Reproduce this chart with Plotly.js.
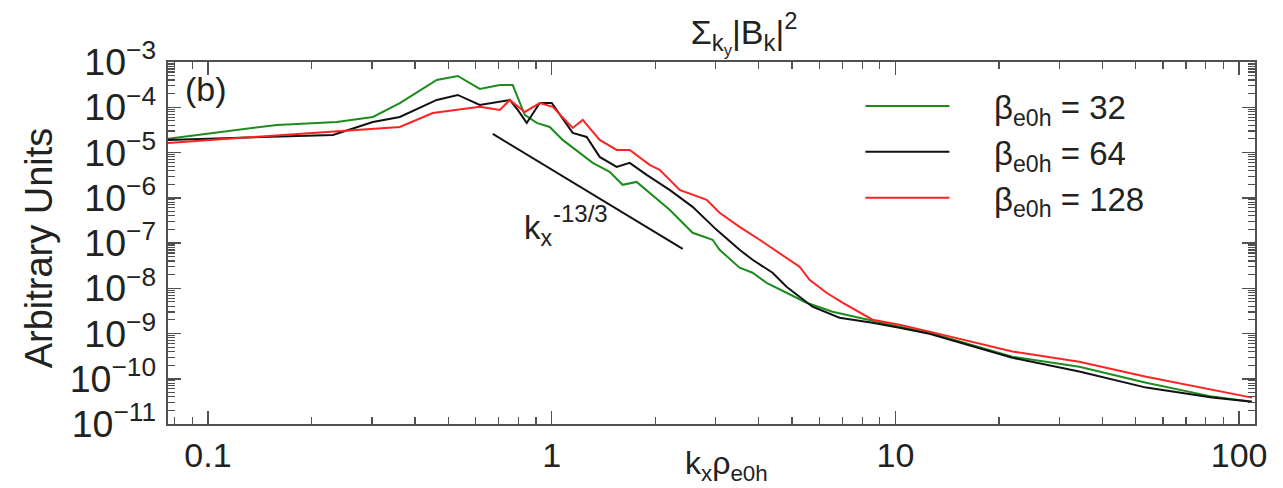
<!DOCTYPE html>
<html>
<head>
<meta charset="utf-8">
<script src="https://cdn.plot.ly/plotly-3.0.1.min.js"></script>
<style>html,body{margin:0;padding:0;background:#fff;}#chart{width:1283px;height:488px;}</style>
</head>
<body>
<div id="chart"></div>
<script>
// beta_e0h = 32 (green)
const kx32 = [0.0765, 0.1587, 0.2371, 0.3018, 0.3615, 0.463, 0.533, 0.6175, 0.7062, 0.7703, 0.8347, 0.9045, 0.9867, 1.076, 1.206, 1.316, 1.474, 1.608, 1.766, 1.927, 2.203, 2.57, 2.938, 3.079, 3.52, 3.84, 4.217, 4.822, 5.512, 6.56, 8.237, 10.27, 12.56, 21.88, 34.26, 53.66, 83.46, 109];
const p32 = [2.0e-5, 4.07e-5, 4.73e-5, 6.11e-5, 1.24e-4, 4.01e-4, 4.91e-4, 2.54e-4, 3.10e-4, 3.10e-4, 6.76e-5, 4.50e-5, 3.67e-5, 1.90e-5, 9.8e-6, 5.89e-6, 3.73e-6, 1.93e-6, 2.24e-6, 1.28e-6, 5.41e-7, 1.68e-7, 1.18e-7, 7.08e-8, 2.84e-8, 2.20e-8, 1.32e-8, 7.96e-9, 4.79e-9, 3.03e-9, 2.02e-9, 1.41e-9, 1.04e-9, 3.08e-10, 1.85e-10, 8.2e-11, 4.03e-11, 3.12e-11];
// beta_e0h = 64 (black)
const kx64 = [0.0765, 0.2309, 0.3018, 0.3615, 0.463, 0.533, 0.6175, 0.7551, 0.7966, 0.8459, 0.9229, 1.0, 1.151, 1.264, 1.379, 1.545, 1.686, 1.889, 2.203, 2.57, 3.018, 3.52, 3.84, 4.39, 4.822, 5.26, 5.737, 6.875, 8.575, 10.27, 12.56, 21.88, 34.26, 53.66, 83.46, 109];
const p64 = [1.9e-5, 2.45e-5, 4.73e-5, 6.11e-5, 1.45e-4, 1.87e-4, 1.12e-4, 1.45e-4, 8.71e-5, 4.5e-5, 1.24e-4, 1.24e-4, 2.71e-5, 2.21e-5, 8.0e-6, 4.81e-6, 5.89e-6, 3.21e-6, 1.49e-6, 6.3e-7, 1.95e-7, 7.08e-8, 4.26e-8, 2.2e-8, 1.08e-8, 6.49e-9, 3.91e-9, 2.23e-9, 1.73e-9, 1.34e-9, 9.9e-10, 2.92e-10, 1.44e-10, 6.37e-11, 3.83e-11, 3.12e-11];
// beta_e0h = 128 (red)
const kx128 = [0.0765, 0.2309, 0.3615, 0.4508, 0.533, 0.6175, 0.7062, 0.7551, 0.8347, 0.9229, 1.0067, 1.151, 1.231, 1.379, 1.545, 1.686, 1.927, 2.061, 2.356, 2.823, 3.079, 3.52, 4.024, 4.6, 5.26, 5.623, 6.302, 7.014, 7.859, 8.575, 10.27, 12.56, 21.88, 34.26, 53.66, 83.46, 109];
const p128 = [1.63e-5, 2.85e-5, 3.67e-5, 7.48e-5, 8.71e-5, 1.02e-4, 8.71e-5, 1.45e-4, 7.87e-5, 1.24e-4, 1.02e-4, 3.49e-5, 5.25e-5, 1.9e-5, 1.14e-5, 1.14e-5, 5.32e-6, 4.13e-6, 1.49e-6, 8.99e-7, 4.65e-7, 2.28e-7, 1.18e-7, 6.08e-8, 2.99e-8, 1.54e-8, 7.96e-9, 4.79e-9, 2.88e-9, 2.02e-9, 1.56e-9, 1.10e-9, 4.0e-10, 2.38e-10, 1.11e-10, 5.74e-11, 3.83e-11];
// reference slope k_x^(-13/3)
const refK = [0.674, 2.405];
const refP = [2.57e-5, 7.4e-8];

const seriesNames = ['β<sub>e0h</sub> = 32', 'β<sub>e0h</sub> = 64', 'β<sub>e0h</sub> = 128'];
const seriesColors = ['#1c8c1c', '#111111', '#ff2222'];

const FONT = 'Liberation Sans, Arial, Helvetica, sans-serif';
const GAP = '\u2003\u2009';

const traces = [
  {x: kx32, y: p32, name: GAP + seriesNames[0], mode: 'lines', line: {color: seriesColors[0], width: 2}},
  {x: kx64, y: p64, name: GAP + seriesNames[1], mode: 'lines', line: {color: seriesColors[1], width: 2}},
  {x: kx128, y: p128, name: GAP + seriesNames[2], mode: 'lines', line: {color: seriesColors[2], width: 2}},
  {x: refK, y: refP, mode: 'lines', showlegend: false, line: {color: '#111', width: 2}, hoverinfo: 'skip'}
];

const axisCommon = {
  type: 'log', showgrid: false, zeroline: false,
  showline: true, linecolor: '#505050', linewidth: 2, mirror: 'ticks',
  ticks: 'inside', ticklen: 13, tickwidth: 1.5, tickcolor: '#505050',
  dtick: 1,
  minor: {ticks: 'inside', ticklen: 7, tickwidth: 1.2, tickcolor: '#505050', showgrid: false}
};

const layout = {
  width: 1283, height: 488,
  margin: {l: 168, r: 28, t: 62, b: 64},
  paper_bgcolor: '#fff', plot_bgcolor: '#fff',
  font: {family: FONT, color: '#222'},
  title: {
    text: 'Σ<sub>k<sub>y</sub></sub>|B<sub>k</sub>|<sup>2</sup>',
    font: {family: FONT, size: 34, color: '#222'},
    xref: 'paper', x: 0.53, xanchor: 'center',
    yref: 'container', y: 0.935, yanchor: 'middle'
  },
  xaxis: Object.assign({}, axisCommon, {
    range: [Math.log10(0.0765), Math.log10(111.2)],
    exponentformat: 'none', ticklabelstandoff: 0,
    tickfont: {family: FONT, size: 34, color: '#222'}
  }),
  yaxis: Object.assign({}, axisCommon, {
    range: [-11, -3],
    exponentformat: 'power', showexponent: 'all', ticklabelstandoff: 4,
    tickfont: {family: FONT, size: 30, color: '#222'}
  }),
  showlegend: true,
  legend: {
    x: 0.637, y: 0.956, xanchor: 'left', yanchor: 'top',
    bgcolor: 'rgba(0,0,0,0)', borderwidth: 0,
    font: {family: FONT, size: 33, color: '#222'},
    itemwidth: 84, tracegroupgap: 0
  },
  annotations: [
    {xref: 'paper', yref: 'paper', x: 0.014, y: 0.925, xanchor: 'left', yanchor: 'middle',
     text: '(b)', showarrow: false, font: {family: FONT, size: 34, color: '#222'}},
    {xref: 'paper', yref: 'paper', x: 0.514, y: -0.114, xanchor: 'center', yanchor: 'middle',
     text: 'k<sub>x</sub>ρ<sub>e0h</sub>', showarrow: false, font: {family: FONT, size: 32, color: '#222'}},
    {xref: 'paper', yref: 'paper', x: -0.119, y: 0.487, xanchor: 'center', yanchor: 'middle', textangle: -90,
     text: 'Arbitrary Units', showarrow: false, font: {family: FONT, size: 38, color: '#222'}},
    {xref: 'paper', yref: 'paper', x: 0.326, y: 0.536, xanchor: 'left', yanchor: 'middle',
     text: 'k<sub>x</sub>', showarrow: false, font: {family: FONT, size: 33, color: '#222'}},
    {xref: 'paper', yref: 'paper', x: 0.352, y: 0.582, xanchor: 'left', yanchor: 'middle',
     text: '-13/3', showarrow: false, font: {family: FONT, size: 24, color: '#222'}}
  ]
};

Plotly.newPlot('chart', traces, layout, {staticPlot: true, displayModeBar: false});
</script>
</body>
</html>
